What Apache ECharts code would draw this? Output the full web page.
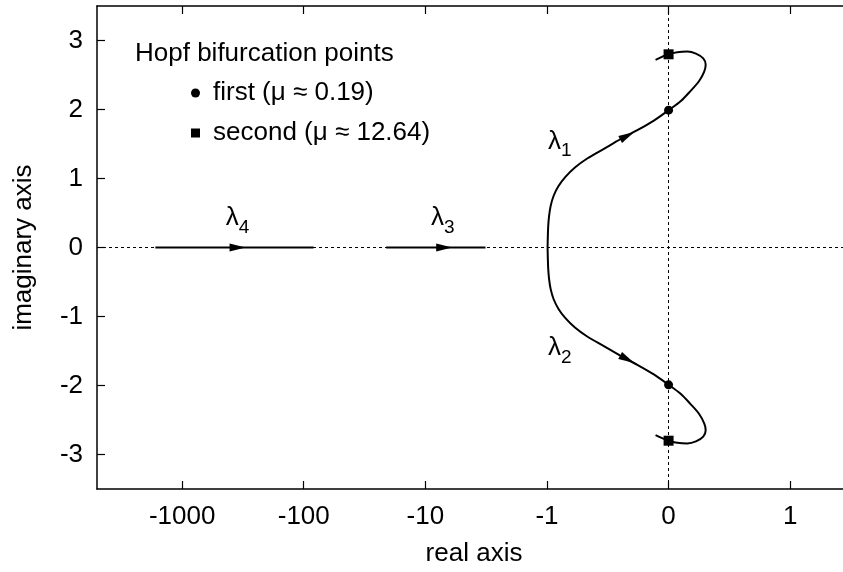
<!DOCTYPE html>
<html>
<head>
<meta charset="utf-8">
<script src="https://cdn.jsdelivr.net/npm/echarts@6/dist/echarts.min.js"></script>
<style>html,body{margin:0;padding:0;background:#fff}#c{width:843px;height:572px}</style>
</head>
<body>
<div id="c"></div>
<script>
// ---- data (real part, imaginary part) ----
const xTickValues = [-1000, -100, -10, -1, 0, 1];
const yTickValues = [-3, -2, -1, 0, 1, 2, 3];
const lambda4 = [[-1660, 0], [-83, 0]];
const lambda3 = [[-21, 0], [-3.2, 0]];
const lambda1 = [
  [-0.995, 0], [-0.993, 0.15], [-0.99, 0.30], [-0.983, 0.45], [-0.97, 0.60],
  [-0.945, 0.75], [-0.905, 0.89], [-0.85, 1.02], [-0.77, 1.16], [-0.669, 1.29],
  [-0.532, 1.43], [-0.395, 1.57], [-0.257, 1.70], [-0.121, 1.84], [0, 1.99],
  [0.099, 2.12], [0.181, 2.27], [0.25, 2.41], [0.293, 2.55], [0.305, 2.65],
  [0.285, 2.74], [0.225, 2.81], [0.154, 2.84], [0.071, 2.83], [0, 2.80], [-0.107, 2.72]
];
const lambda2 = [
  [-0.995, 0], [-0.993, -0.15], [-0.99, -0.30], [-0.983, -0.45], [-0.97, -0.60],
  [-0.945, -0.75], [-0.905, -0.89], [-0.85, -1.02], [-0.77, -1.16], [-0.669, -1.29],
  [-0.532, -1.43], [-0.395, -1.57], [-0.257, -1.70], [-0.121, -1.84], [0, -1.99],
  [0.099, -2.12], [0.181, -2.27], [0.25, -2.41], [0.293, -2.55], [0.305, -2.65],
  [0.285, -2.74], [0.225, -2.81], [0.154, -2.84], [0.071, -2.83], [0, -2.80], [-0.107, -2.72]
];
const hopfFirst = [[0, 1.99], [0, -1.99]];
const hopfSecond = [[0, 2.80], [0, -2.80]];
// arrow heads: [curve name, real, imag]
const arrowHeads = [['λ4', -350, 0], ['λ3', -7, 0], ['λ1', -0.34, 1.62], ['λ2', -0.34, -1.62]];
const curveLabels = [['1', -0.895, 1.55], ['2', -0.895, -1.44], ['3', -7.2, 0.44], ['4', -350, 0.44]];
const firstName = 'first (μ ≈ 0.19)';
const secondName = 'second (μ ≈ 12.64)';

// axis transform: linear on [-1,1], logarithmic beyond
function tx(x) {
  const a = Math.abs(x);
  return a <= 1 ? x : Math.sign(x) * (1 + Math.log10(a));
}
const T = pts => pts.map(p => [tx(p[0]), p[1]]);
const xTickPos = xTickValues.map(tx);

const FONT = '"Liberation Sans", Arial, Helvetica, sans-serif';
const FS = 26;
const black = '#000';

const chart = echarts.init(document.getElementById('c'), null, {renderer: 'canvas'});

const axisCommon = {
  axisLine: {show: true, onZero: false, lineStyle: {color: black, width: 1.5}},
  axisTick: {show: true, inside: true, length: 8, lineStyle: {color: black, width: 1.2}},
  splitLine: {show: false}
};

function curve(name, data) {
  return {
    type: 'line', name: name, data: T(data), smooth: 0.3, symbol: 'none',
    lineStyle: {color: black, width: 2}, z: 3, silent: true, animation: false
  };
}

const arrowSeries = {
  type: 'scatter', name: 'arrows', z: 4, silent: true, animation: false,
  symbol: 'triangle', symbolSize: [8, 16],
  itemStyle: {color: black, opacity: 1},
  data: arrowHeads.map(a => ({value: [tx(a[1]), a[2]], symbolRotate: -90}))
};

const labelSeries = {
  type: 'scatter', name: 'labels', symbolSize: 0, silent: true, animation: false, z: 5,
  itemStyle: {opacity: 1},
  data: curveLabels.map(l => ({
    value: [tx(l[1]), l[2]],
    label: {
      show: true, position: 'inside', color: black,
      formatter: '{l|λ}{s|' + l[0] + '}',
      rich: {
        l: {fontSize: FS, fontFamily: FONT, color: black, lineHeight: 28, verticalAlign: 'bottom'},
        s: {fontSize: 19, fontFamily: FONT, color: black, lineHeight: 19, verticalAlign: 'bottom', padding: [0, 0, -6, 0]}
      }
    }
  }))
};

const option = {
  animation: false,
  backgroundColor: '#fff',
  textStyle: {fontFamily: FONT},
  title: {
    text: 'Hopf bifurcation points', left: 135, top: 41, padding: 0,
    textStyle: {fontSize: FS, fontWeight: 'normal', color: black, fontFamily: FONT, lineHeight: 25}
  },
  legend: {
    orient: 'vertical', left: 191, top: 80, padding: 0,
    itemWidth: 9, itemHeight: 9, itemGap: 14,
    data: [{name: firstName, icon: 'circle'}, {name: secondName, icon: 'rect'}],
    textStyle: {fontSize: FS, color: black, fontFamily: FONT, lineHeight: 25, padding: [0, 0, 0, 8]},
    selectedMode: false
  },
  grid: {left: 97, top: 6, right: -8, height: 483, outerBoundsMode: 'none', containLabel: false},
  xAxis: [
    Object.assign({}, axisCommon, {
      type: 'value', min: -4.7, max: 1.5, position: 'bottom',
      name: 'real axis', nameLocation: 'middle', nameGap: 52,
      nameTextStyle: {fontSize: FS, color: black, fontFamily: FONT},
      axisTick: Object.assign({}, axisCommon.axisTick, {customValues: xTickPos}),
      axisLabel: {
        show: true, customValues: xTickPos, margin: 15, fontSize: FS, color: black, fontFamily: FONT,
        formatter: v => {
          const i = xTickPos.findIndex(p => Math.abs(p - v) < 1e-6);
          return i >= 0 ? String(xTickValues[i]) : '';
        }
      }
    }),
    Object.assign({}, axisCommon, {
      type: 'value', min: -4.7, max: 1.5, position: 'top',
      axisTick: Object.assign({}, axisCommon.axisTick, {customValues: xTickPos}),
      axisLabel: {show: false}
    })
  ],
  yAxis: [
    Object.assign({}, axisCommon, {
      type: 'value', min: -3.5, max: 3.5, position: 'left',
      name: 'imaginary axis', nameLocation: 'middle', nameGap: 60, nameRotate: 90,
      nameTextStyle: {fontSize: FS, color: black, fontFamily: FONT},
      axisTick: Object.assign({}, axisCommon.axisTick, {customValues: yTickValues}),
      axisLabel: {show: true, customValues: yTickValues, margin: 14, fontSize: FS, color: black, fontFamily: FONT,
        formatter: v => String(Math.round(v))}
    }),
    Object.assign({}, axisCommon, {
      type: 'value', min: -3.5, max: 3.5, position: 'right',
      axisTick: Object.assign({}, axisCommon.axisTick, {customValues: yTickValues}),
      axisLabel: {show: false}
    })
  ],
  series: [
    {
      type: 'line', name: 'zero', data: [], silent: true, z: 1,
      markLine: {
        silent: true, symbol: ['none', 'none'], animation: false,
        label: {show: false},
        lineStyle: {color: black, width: 1, type: [3, 3]},
        data: [{yAxis: 0}, {xAxis: 0}]
      }
    },
    curve('λ4', lambda4),
    curve('λ3', lambda3),
    curve('λ1', lambda1),
    curve('λ2', lambda2),
    {
      type: 'scatter', name: firstName, data: hopfFirst, symbol: 'circle', symbolSize: 9,
      itemStyle: {color: black, opacity: 1}, z: 6, silent: true
    },
    {
      type: 'scatter', name: secondName, data: hopfSecond, symbol: 'rect', symbolSize: 10,
      itemStyle: {color: black, opacity: 1}, z: 6, silent: true
    },
    arrowSeries,
    labelSeries
  ]
};
chart.setOption(option);

// orient arrow heads along the tangent of their curve (in pixel space)
const curves = {'λ1': lambda1, 'λ2': lambda2, 'λ3': lambda3, 'λ4': lambda4};
function px(p) { return chart.convertToPixel({gridIndex: 0}, [tx(p[0]), p[1]]); }
const rotated = arrowHeads.map(a => {
  const pts = curves[a[0]];
  let best = 0, bd = Infinity;
  const ap = px([a[1], a[2]]);
  for (let i = 0; i < pts.length - 1; i++) {
    const m = px([(pts[i][0] + pts[i + 1][0]) / 2, (pts[i][1] + pts[i + 1][1]) / 2]);
    const d = Math.hypot(m[0] - ap[0], m[1] - ap[1]);
    if (d < bd) { bd = d; best = i; }
  }
  const p0 = px(pts[best]), p1 = px(pts[best + 1]);
  const ang = Math.atan2(-(p1[1] - p0[1]), p1[0] - p0[0]) * 180 / Math.PI;
  return {value: [tx(a[1]), a[2]], symbolRotate: ang - 90};
});
chart.setOption({series: [{name: 'arrows', data: rotated}]});
</script>
</body>
</html>
